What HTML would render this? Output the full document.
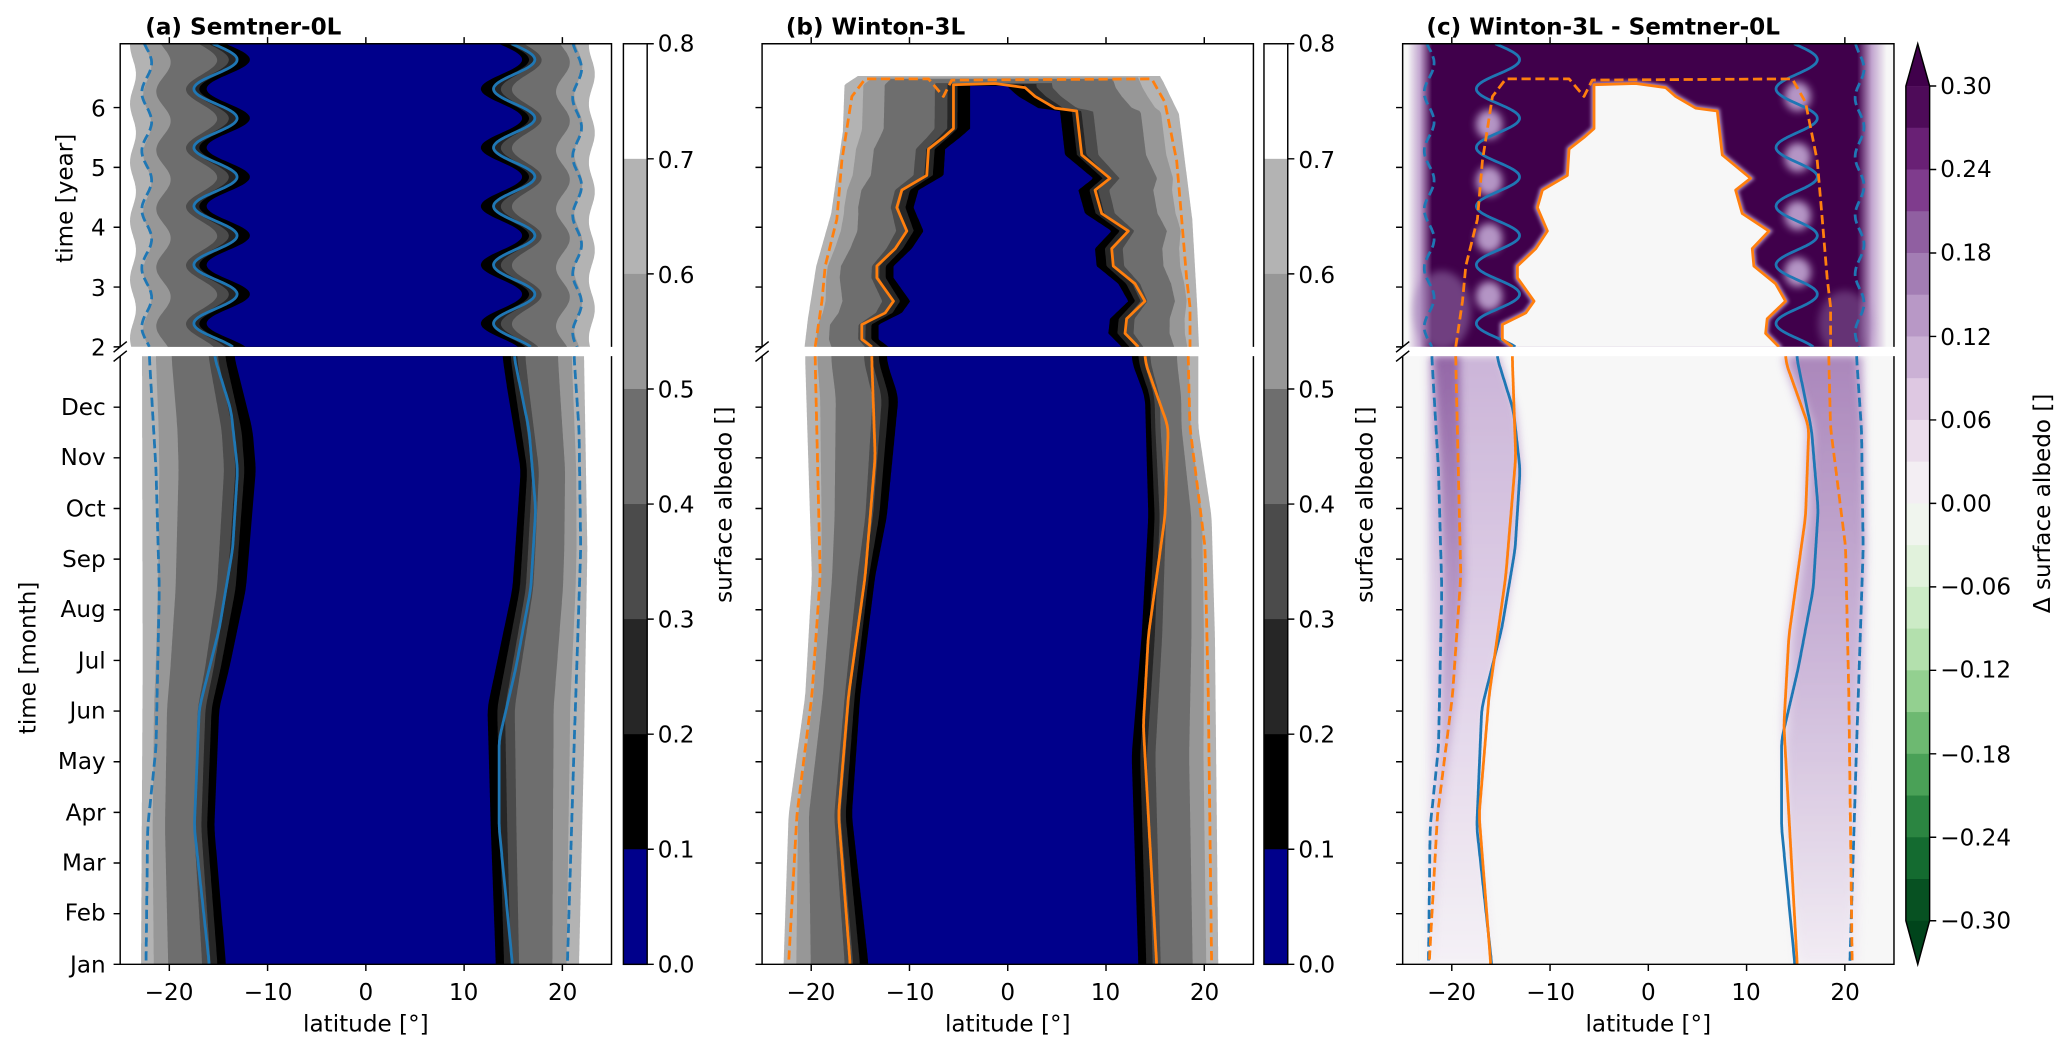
<!DOCTYPE html>
<html><head><meta charset="utf-8"><style>
html,body{margin:0;padding:0;background:#fff;overflow:hidden}
svg{display:block}
text{font-family:"DejaVu Sans","Liberation Sans",sans-serif;font-size:17.5px;fill:#000}
</style></head><body>
<svg id="s" xmlns="http://www.w3.org/2000/svg" width="2067" height="1053" viewBox="0 0 1565 797">
<defs>
<clipPath id="cua"><rect x="91" y="33" width="372" height="229.5"/></clipPath>
<clipPath id="cla"><rect x="91" y="269.5" width="372" height="460.5"/></clipPath>
<clipPath id="cub"><rect x="577" y="33" width="372" height="229.5"/></clipPath>
<clipPath id="clb"><rect x="577" y="269.5" width="372" height="460.5"/></clipPath>
<clipPath id="cuc"><rect x="1062" y="33" width="372" height="229.5"/></clipPath>
<clipPath id="clc"><rect x="1062" y="269.5" width="372" height="460.5"/></clipPath>
<linearGradient id="gpu" x1="1062" x2="1434" y1="0" y2="0" gradientUnits="userSpaceOnUse">
<stop offset="0.01" stop-color="#f7f7f7"/><stop offset="0.035" stop-color="#c2a5cf"/><stop offset="0.06" stop-color="#40004b"/>
<stop offset="0.925" stop-color="#40004b"/><stop offset="0.955" stop-color="#c2a5cf"/><stop offset="0.985" stop-color="#f7f7f7"/>
</linearGradient>
<linearGradient id="gls" x1="0" x2="0" y1="269.5" y2="730" gradientUnits="userSpaceOnUse">
<stop offset="0" stop-color="#8a5a9e"/><stop offset="0.5" stop-color="#b89cc9"/><stop offset="1" stop-color="#efe7f1"/>
</linearGradient>
<linearGradient id="glw" x1="0" x2="0" y1="269.5" y2="730" gradientUnits="userSpaceOnUse">
<stop offset="0" stop-color="#c6add4"/><stop offset="0.5" stop-color="#ddcde6"/><stop offset="1" stop-color="#f4f0f5"/>
</linearGradient>
<filter id="bl" x="-50%" y="-50%" width="200%" height="200%"><feGaussianBlur stdDeviation="3"/></filter>
<filter id="bl2" x="-50%" y="-50%" width="200%" height="200%"><feGaussianBlur stdDeviation="1.5"/></filter>
</defs>
<g id="G"></g>

<text x="110" y="26" font-weight="bold">(a) Semtner-0L</text>
<text x="595" y="26" font-weight="bold">(b) Winton-3L</text>
<text x="1080" y="26" font-weight="bold">(c) Winton-3L - Semtner-0L</text>

<g text-anchor="end">
<text x="80" y="269">2</text><text x="80" y="224">3</text><text x="80" y="178">4</text><text x="80" y="133">5</text><text x="80" y="88">6</text>
<text x="80" y="736">Jan</text><text x="80" y="697">Feb</text><text x="80" y="659">Mar</text><text x="80" y="621">Apr</text>
<text x="80" y="582">May</text><text x="80" y="544">Jun</text><text x="80" y="506">Jul</text><text x="80" y="467">Aug</text>
<text x="80" y="429">Sep</text><text x="80" y="391">Oct</text><text x="80" y="352">Nov</text><text x="80" y="314">Dec</text>
</g>
<text transform="translate(55,150) rotate(-90)" text-anchor="middle">time [year]</text>
<text transform="translate(27,498) rotate(-90)" text-anchor="middle">time [month]</text>

<g text-anchor="middle">
<text x="128" y="757">−20</text><text x="203" y="757">−10</text><text x="277" y="757">0</text><text x="351" y="757">10</text><text x="426" y="757">20</text>
<text x="614" y="757">−20</text><text x="689" y="757">−10</text><text x="763" y="757">0</text><text x="837" y="757">10</text><text x="912" y="757">20</text>
<text x="1099" y="757">−20</text><text x="1174" y="757">−10</text><text x="1248" y="757">0</text><text x="1322" y="757">10</text><text x="1397" y="757">20</text>
<text x="277" y="781">latitude [°]</text><text x="763" y="781">latitude [°]</text><text x="1248" y="781">latitude [°]</text>
</g>

<g>
<text x="498" y="39">0.8</text><text x="498" y="127">0.7</text><text x="498" y="214">0.6</text><text x="498" y="301">0.5</text><text x="498" y="388">0.4</text><text x="498" y="475">0.3</text><text x="498" y="562">0.2</text><text x="498" y="649">0.1</text><text x="498" y="736">0.0</text>
<text x="983" y="39">0.8</text><text x="983" y="127">0.7</text><text x="983" y="214">0.6</text><text x="983" y="301">0.5</text><text x="983" y="388">0.4</text><text x="983" y="475">0.3</text><text x="983" y="562">0.2</text><text x="983" y="649">0.1</text><text x="983" y="736">0.0</text>
<text x="1469" y="71">0.30</text><text x="1469" y="134">0.24</text><text x="1469" y="197">0.18</text><text x="1469" y="261">0.12</text><text x="1469" y="324">0.06</text><text x="1469" y="387">0.00</text>
<text x="1469" y="450">−0.06</text><text x="1469" y="513">−0.12</text><text x="1469" y="577">−0.18</text><text x="1469" y="640">−0.24</text><text x="1469" y="703">−0.30</text>
</g>
<text transform="translate(554,382) rotate(-90)" text-anchor="middle">surface albedo []</text>
<text transform="translate(1039,382) rotate(-90)" text-anchor="middle">surface albedo []</text>
<text transform="translate(1552,381) rotate(-90)" text-anchor="middle">Δ surface albedo []</text>
</svg>
<script>
const NS='http://www.w3.org/2000/svg';
const G=document.getElementById('G');
const K=7.44, UT=33, UB=262.5, LT=269.5, LB=730;
function el(tag,at,p){const e=document.createElementNS(NS,tag);for(const k in at)e.setAttribute(k,at[k]);(p||G).appendChild(e);return e;}
function interp(a,y){if(y<=a[0][0])return a[0][1];const n=a.length;if(y>=a[n-1][0])return a[n-1][1];
 for(let i=1;i<n;i++){if(y<=a[i][0]){const y0=a[i-1][0],v0=a[i-1][1],y1=a[i][0],v1=a[i][1];
  let t=(y-y0)/(y1-y0);return v0+(v1-v0)*t;}}}
const S=a=>a.sort((p,q)=>p[0]-q[0]);
// smoothed interpolation (moving average of linear interp)
const F=a=>(y=>{let s=0;for(let d=-6;d<=6;d+=2)s+=interp(a,y+d);return s/7;});
const Fr=a=>(y=>interp(a,y));
const a6=(zy,zx)=>[730-(1545-zy)*0.3008,-20+(zx-150)/29.5];
const b5L=(zy,zx)=>[269+(zy-530)*0.452,(zx-738)/29.5];
const b5U=(zy,zx)=>[33+zy*0.443,(zx-738)/29.5];
const cv=(f,a)=>S(a.map(p=>f(p[0],p[1])));
const fmt=p=>p[0].toFixed(1)+','+p[1].toFixed(1);

const aLn=F(cv(a6,[[1545,320],[1200,285],[900,300],[800,330],[600,380],[300,410],[200,400],[15,345]]));
const aLl=F(cv(a6,[[1545,270],[1200,225],[900,240],[700,300],[500,340],[300,355],[150,335],[15,285]]));
const aLd=F(cv(a6,[[1545,80],[1200,85],[1000,110],[600,120],[300,110],[15,90]]));
const aLo=F(cv(a6,[[1545,65],[800,70],[15,68]]));
const aRn=F(cv(a6,[[1545,1130],[1200,1115],[900,1105],[800,1130],[600,1180],[300,1205],[100,1165],[15,1150]]));
const aRl=F(cv(a6,[[1545,1180],[1200,1140],[980,1140],[800,1190],[600,1235],[400,1250],[200,1230],[15,1185]]));
const aRd=F(cv(a6,[[1545,1345],[1000,1365],[500,1385],[200,1380],[15,1365]]));
const aRo=F(cv(a6,[[1545,1380],[1000,1395],[500,1405],[15,1395]]));
const th=y=>2*Math.PI*(y-45)/44.4;
const uLl=y=>-15.3+2.2*Math.cos(th(y));
const uRl=y=>15.1+2.1*Math.cos(th(y));
const uLn=y=>uLl(y)+1.3, uRn=y=>uRl(y)-1.3;
const uLd=y=>-22.3+0.5*Math.sin(th(y)+1.2), uRd=y=>21.5+0.45*Math.sin(th(y)+0.6);
const uLo=y=>-23.7+0.3*Math.sin(th(y)), uRo=y=>23.0+0.3*Math.sin(th(y));
const bLn=F(cv(b5L,[[1550,320],[1300,270],[1100,295],[900,340],[800,375],[600,410],[540,375]]));
const bLl=F(cv(b5L,[[1550,265],[1300,230],[1100,260],[900,310],[700,340],[540,330]]));
const bLd=F(cv(b5L,[[1550,80],[1300,105],[1100,150],[900,175],[540,160]]));
const bLo=F(cv(b5L,[[1550,65],[1300,80],[1100,130],[900,150],[540,130]]));
const bRn=F(cv(b5L,[[1550,1130],[1200,1110],[1000,1140],[800,1160],[600,1150],[540,1110]]));
const bRl=F(cv(b5L,[[1550,1185],[1150,1145],[1000,1160],[800,1210],[650,1220],[540,1150]]));
const bRd=F(cv(b5L,[[1550,1350],[1100,1340],[850,1330],[650,1285],[540,1280]]));
const bRo=F(cv(b5L,[[1550,1370],[1000,1360],[800,1350],[650,1310],[540,1310]]));
const buLlA=cv(b5U,[[518,330],[505,300],[480,300],[460,370],[440,395],[400,345],[380,345],[350,400],[320,435],[280,405],[250,420],[225,495],[180,500],[160,545],[145,575],[70,575]]);
const buTop=cv(b5U,[[68,700]]);
const buRlA=cv(b5U,[[75,790],[90,820],[110,880],[115,945],[190,960],[230,1045],[250,1000],[290,1020],[320,1100],[350,1050],[380,1055],[410,1120],[440,1150],[470,1095],[495,1090],[518,1130]]);
const buLl=Fr(buLlA), buRl=Fr(buRlA);
const buLn=y=>buLl(y)+1.7, buRn=y=>buRl(y)-1.7;
const buLdA=cv(b5U,[[518,160],[440,180],[380,190],[300,225],[200,240],[90,270],[60,310]]);
const buDTop=[b5U(60,500),b5U(90,545),b5U(62,570),b5U(60,1170)];
const buRdA=cv(b5U,[[60,1170],[100,1210],[200,1245],[300,1260],[400,1275],[450,1285],[518,1285]]);
const buLo=Fr(cv(b5U,[[518,128],[470,138],[380,163],[290,208],[250,218],[150,243],[70,248],[55,288]]));
const buRo=Fr(cv(b5U,[[55,1195],[65,1205],[120,1252],[300,1292],[450,1307],[518,1312]]));

const LEV=[[1,'#b3b3b3'],[0.85,'#979797'],[0.68,'#6e6e6e'],[0.28,'#4b4b4b'],[0.18,'#262626'],[0.1,'#000000'],[0,'#00008b']];
function bands(g,cx,yT,yB,nL,oL,nR,oR,topN,topO){
 for(const [f,c] of LEV){
  const yt=(topN==null)?yT:topN+f*(topO-topN);
  const L=[],R=[];
  for(let y=yt;;y+=1.2){if(y>yB)y=yB;
   L.push([cx+K*(nL(y)+f*(oL(y)-nL(y))),y]);R.push([cx+K*(nR(y)+f*(oR(y)-nR(y))),y]);if(y>=yB)break;}
  el('polygon',{points:L.concat(R.reverse()).map(fmt).join(' '),fill:c},g);
 }
}
function fnPath(cx,fn,y0,y1){let d='';for(let y=y0;;y+=1){if(y>y1)y=y1;d+=(d?'L':'M')+(cx+K*fn(y)).toFixed(1)+','+y.toFixed(1);if(y>=y1)break;}return d;}
function ptPath(cx,pts){return pts.map((p,i)=>(i?'L':'M')+(cx+K*p[1]).toFixed(1)+','+p[0].toFixed(1)).join('');}
const BLU='#1f77b4',ORA='#ff7f0e';
function line(g,d,c,dash){el('path',{d:d,fill:'none',stroke:c,'stroke-width':2.1,'stroke-dasharray':dash?'7 3.5':'none','stroke-linejoin':'round'},g);}
function aLines(g,cx){
 line(g,fnPath(cx,uLl,UT,UB),BLU);line(g,fnPath(cx,uRl,UT,UB),BLU);
 line(g,fnPath(cx,uLd,UT,UB),BLU,1);line(g,fnPath(cx,uRd,UT,UB),BLU,1);
}
function aLinesL(g,cx){
 line(g,fnPath(cx,aLl,LT,LB),BLU);line(g,fnPath(cx,aRl,LT,LB),BLU);
 line(g,fnPath(cx,aLd,LT,LB),BLU,1);line(g,fnPath(cx,aRd,LT,LB),BLU,1);
}
const solidLoop=[...buLlA.slice().reverse(),...buTop,...buRlA];
const dashLoop=[...buLdA.slice().reverse(),...buDTop,...buRdA];
function bLines(g,cx){line(g,ptPath(cx,solidLoop),ORA);line(g,ptPath(cx,dashLoop),ORA,1);}
function bLinesL(g,cx){
 line(g,fnPath(cx,bLl,LT,LB),ORA);line(g,fnPath(cx,bRl,LT,LB),ORA);
 line(g,fnPath(cx,bLd,LT,LB),ORA,1);line(g,fnPath(cx,bRd,LT,LB),ORA,1);
}

let g=el('g',{'clip-path':'url(#cua)'});
bands(g,277,UT,UB,uLn,uLo,uRn,uRo,null,null);aLines(g,277);
g=el('g',{'clip-path':'url(#cla)'});
bands(g,277,LT,LB,aLn,aLo,aRn,aRo,null,null);aLinesL(g,277);
g=el('g',{'clip-path':'url(#cub)'});
bands(g,763,UT,UB,buLn,buLo,buRn,buRo,b5U(72,0)[0],b5U(55,0)[0]);bLines(g,763);
g=el('g',{'clip-path':'url(#clb)'});
bands(g,763,LT,LB,bLn,bLo,bRn,bRo,null,null);bLinesL(g,763);
const CX=1248;
g=el('g',{'clip-path':'url(#cuc)'});
el('rect',{x:1062,y:33,width:372,height:229.5,fill:'url(#gpu)'},g);
el('ellipse',{cx:CX+K*-21,cy:235,rx:22,ry:30,fill:'#9f7fb5',opacity:0.5,filter:'url(#bl)'},g);
el('ellipse',{cx:CX+K*20,cy:245,rx:20,ry:25,fill:'#9f7fb5',opacity:0.4,filter:'url(#bl)'},g);
for(const y of [94,137,180,224]) el('ellipse',{cx:CX+K*-16.2,cy:y,rx:10,ry:11,fill:'#c1a6d3',opacity:0.9,filter:'url(#bl)'},g);
for(const y of [73,119,163,206]) el('ellipse',{cx:CX+K*15.2,cy:y,rx:10,ry:11,fill:'#c1a6d3',opacity:0.9,filter:'url(#bl)'},g);
const inner=[...buLlA.slice().reverse(),...buTop,...buRlA];
const ip=inner.map(p=>[CX+K*p[1],p[0]]);ip.push([CX+K*inner[inner.length-1][1],275]);ip.unshift([CX+K*inner[0][1],275]);
el('polygon',{points:ip.map(fmt).join(' '),fill:'#b596c8',stroke:'#b596c8','stroke-width':4,filter:'url(#bl2)'},g);
el('polygon',{points:ip.map(fmt).join(' '),fill:'#f7f7f7'},g);
aLines(g,CX);bLines(g,CX);
g=el('g',{'clip-path':'url(#clc)'});
el('rect',{x:1062,y:269.5,width:372,height:460.5,fill:'#f7f7f7'},g);
function bandPoly(g,f1,f2,fill,op,blur){const L=[],R=[];for(let y=LT;;y+=2){if(y>LB)y=LB;L.push([CX+K*f1(y),y]);R.push([CX+K*f2(y),y]);if(y>=LB)break;}
 const a={points:L.concat(R.reverse()).map(fmt).join(' '),fill:fill,opacity:op};if(blur)a.filter='url(#bl)';el('polygon',a,g);}
bandPoly(g,y=>aLo(y)+0.4,y=>aLl(y)+0.3,'url(#glw)',0.9,1);
bandPoly(g,y=>aLd(y)+0.2,y=>bLd(y)+0.4,'url(#gls)',0.85,1);
bandPoly(g,y=>bRl(y)-0.3,y=>aRo(y)-0.3,'url(#glw)',0.9,1);
bandPoly(g,y=>Math.min(bRl(y),aRl(y))+0.6,y=>aRd(y),'url(#gls)',0.5,1);
aLinesL(g,CX);bLinesL(g,CX);

function frame(x0){
 const x1=x0+372;
 el('path',{d:`M${x0},${UB}V${UT}H${x1}V${UB}M${x0},${LT}V${LB}H${x1}V${LT}`,fill:'none',stroke:'#000','stroke-width':1.1});
 let d='';
 for(let t=2;t<=6;t++){const y=UB-(t-2)*45.3;d+=`M${x0},${y}h-5`;}
 for(let m=0;m<12;m++){const y=LB-m*38.35;d+=`M${x0},${y}h-5`;}
 for(let l=-20;l<=20;l+=10){const x=x0+186+K*l;d+=`M${x},${LB}v5M${x},${UT}v-5`;}
 d+=`M${x0-5},${UB+4}l10,-8M${x0-5},${LT+4}l10,-8`;
 el('path',{d:d,stroke:'#000','stroke-width':1.1,fill:'none'});
}
frame(91);frame(577);frame(1062);
function cbA(x){
 const cols=['#ffffff','#b3b3b3','#979797','#6e6e6e','#4b4b4b','#262626','#000000','#00008b'];
 for(let i=0;i<8;i++) el('rect',{x:x,y:33+i*87.125,width:18,height:87.6,fill:cols[i]});
 el('rect',{x:x,y:33,width:18,height:697,fill:'none',stroke:'#000','stroke-width':1.1});
 let d='';for(let i=0;i<=8;i++)d+=`M${x+18},${33+i*87.125}h5`;
 el('path',{d:d,stroke:'#000','stroke-width':1.1});
}
cbA(472);cbA(957);
(function(){
 const x=1443;
 const cs=['#00441b','#1b7837','#5aae61','#a6dba0','#d9f0d3','#f7f7f7','#e7d4e8','#c2a5cf','#9970ab','#762a83','#40004b'];
 const h=c=>[1,3,5].map(i=>parseInt(c.substr(i,2),16));
 function cm(f){const p=f*10,i=Math.min(9,Math.floor(p)),t=p-i;const a=h(cs[i]),b=h(cs[i+1]);return 'rgb('+a.map((v,k)=>Math.round(v+(b[k]-v)*t)).join(',')+')';}
 for(let i=0;i<20;i++){const v=0.30-0.03*(i+0.5);el('rect',{x:x,y:65+i*31.6,width:18,height:32,fill:cm((v+0.3)/0.6)});}
 el('polygon',{points:`${x},65 ${x+18},65 ${x+9},33`,fill:'#40004b'});
 el('polygon',{points:`${x},697 ${x+18},697 ${x+9},730`,fill:'#00441b'});
 el('path',{d:`M${x},65L${x+9},33L${x+18},65V697L${x+9},730L${x},697Z`,fill:'none',stroke:'#000','stroke-width':1.1});
 let d='';for(let i=0;i<=10;i++)d+=`M${x+18},${65+i*63.2}h5`;
 el('path',{d:d,stroke:'#000','stroke-width':1.1});
})();
</script>
</body></html>
